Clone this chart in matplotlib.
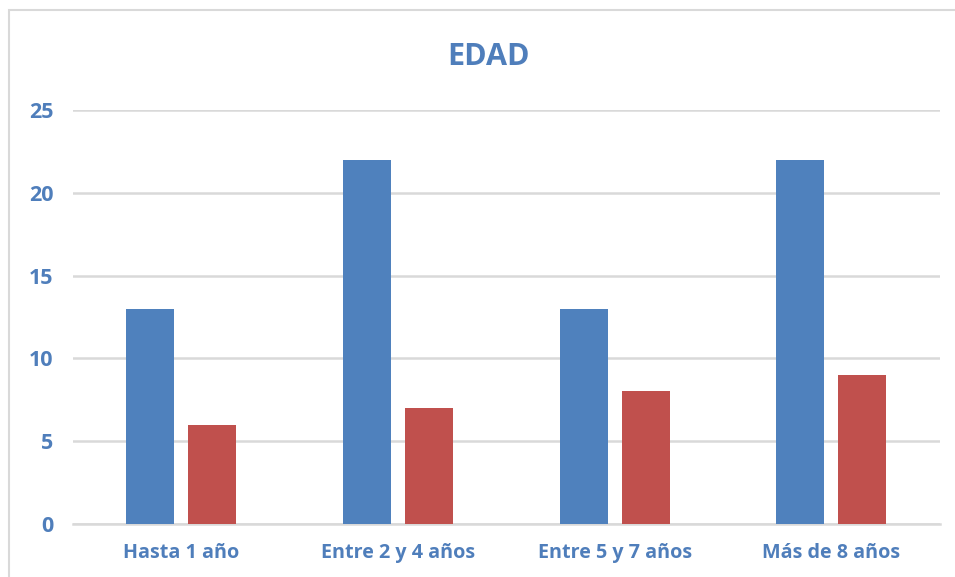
import numpy as np
from matplotlib import pyplot as plt

categories = ["Hasta 1 año", "Entre 2 y 4 años", "Entre 5 y 7 años", "Más de 8 años"]
serie_1 = [13, 22, 13, 22]
serie_2 = [6, 7, 8, 9]
y_ticks = [0, 5, 10, 15, 20, 25]

blue = "#4F81BD"
red = "#C0504D"
text_color = "#4F7EBB"

plt.rcParams['font.family'] = ['Open Sans', 'DejaVu Sans']

fig = plt.figure(figsize=(9.55, 5.77), dpi=100)
ax = fig.add_axes([0.0764, 0.0919, 0.9076, 0.7175])

x = np.arange(len(categories))
width = 0.221
offset = 0.143
ax.bar(x - offset, serie_1, width, color=blue, zorder=3)
ax.bar(x + offset, serie_2, width, color=red, zorder=3)

ax.set_xlim(-0.5, len(categories) - 0.5)
ax.set_ylim(0, 25)
ax.set_yticks(y_ticks)
ax.set_yticklabels([str(v) for v in y_ticks], fontsize=15.5, fontweight='bold', color=text_color)
ax.set_xticks(x)
ax.set_xticklabels(categories, fontsize=14.2, fontweight='bold', color=text_color)
ax.tick_params(axis='both', length=0)
ax.tick_params(axis='y', pad=14)
ax.tick_params(axis='x', pad=14)
ax.grid(axis='y', color='#D9D9D9', linewidth=1.8, zorder=0)
for side in ['top', 'right', 'left']:
    ax.spines[side].set_visible(False)
ax.spines['bottom'].set_color('#D9D9D9')
ax.spines['bottom'].set_linewidth(1.8)

fig.text(0.511, 0.902, "EDAD", ha='center', va='center', fontsize=22,
         fontweight='bold', color=text_color)

# marco del grafico
fig.patches.append(plt.Rectangle((9 / 955, -0.01), 1.0, 1 - 10 / 577 + 0.01,
                                 transform=fig.transFigure, fill=False,
                                 edgecolor='#D9D9D9', linewidth=1.5))

fig.savefig("out.png", dpi=100)
